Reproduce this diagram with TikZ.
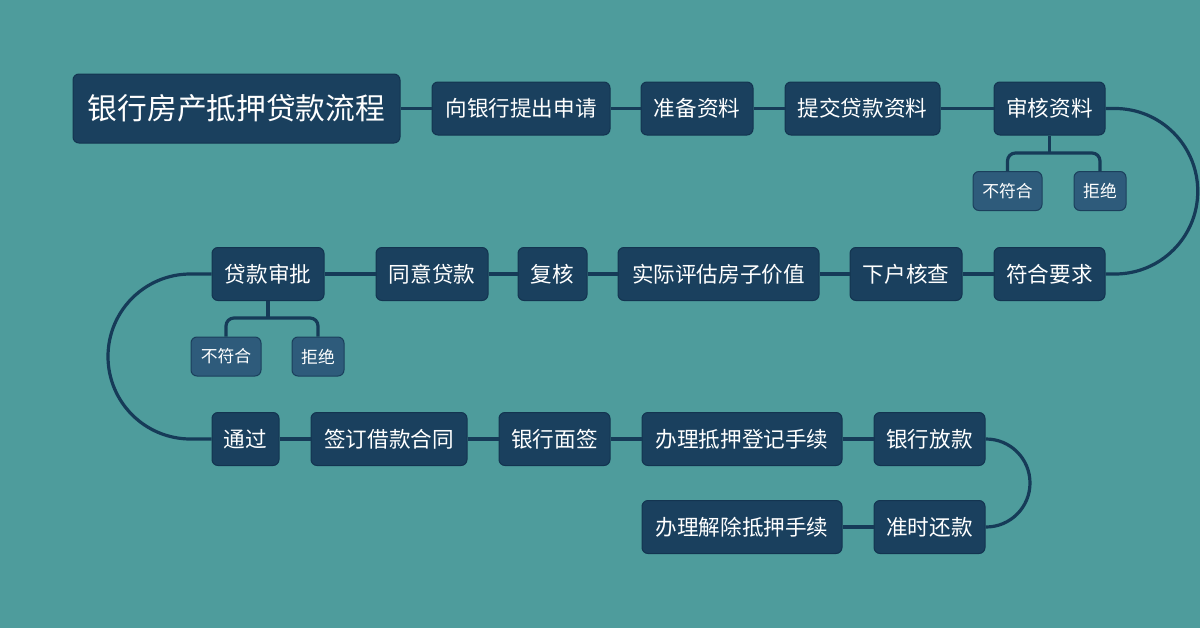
\documentclass[tikz,border=0pt]{standalone}
\usepackage{fontspec}
\setmainfont{Noto Sans CJK SC}
\definecolor{bg}{HTML}{4E9C9C}
\definecolor{nodefill}{HTML}{1A405E}
\definecolor{nodeline}{HTML}{133450}
\definecolor{subfill}{HTML}{2E5B7B}
\definecolor{subline}{HTML}{1B3F5C}
\definecolor{conn}{HTML}{163B58}
\begin{document}
\begin{tikzpicture}[x=0.75pt,y=-0.75pt,
  mbox/.style={draw=nodeline,line width=0.75pt,fill=nodefill,rounded corners=4.5pt,text=white,
    inner sep=0pt,minimum height=53*0.75pt,font=\fontsize{16.2pt}{19pt}\selectfont},
  tbox/.style={mbox,minimum height=69*0.75pt,font=\fontsize{22.3pt}{26pt}\selectfont},
  sbox/.style={draw=subline,line width=0.75pt,fill=subfill,rounded corners=4.5pt,text=white,
    inner sep=0pt,minimum height=39*0.75pt,font=\fontsize{12.6pt}{15pt}\selectfont},
  link/.style={draw=conn,line width=2.4pt},
  blink/.style={draw=conn,line width=2.4pt,rounded corners=6pt}]
\fill[bg] (0,0) rectangle (1200,628);
\useasboundingbox (0,0) rectangle (1200,628);
% row 1
\node[tbox,minimum width=327*0.75pt] (t) at (236.5,108.5) {银行房产抵押贷款流程};
\node[mbox,minimum width=178*0.75pt] (a1) at (521,108.5) {向银行提出申请};
\node[mbox,minimum width=112*0.75pt] (a2) at (697,108.5) {准备资料};
\node[mbox,minimum width=155*0.75pt] (a3) at (862.5,108.5) {提交贷款资料};
\node[mbox,minimum width=111*0.75pt] (a4) at (1049.5,108.5) {审核资料};
\node[sbox,minimum width=69*0.75pt] (s1) at (1007.5,191) {不符合};
\node[sbox,minimum width=52*0.75pt] (s2) at (1100,191) {拒绝};
% row 2
\node[mbox,minimum width=111*0.75pt] (b6) at (1049.5,274) {符合要求};
\node[mbox,minimum width=112*0.75pt] (b5) at (906,274) {下户核查};
\node[mbox,minimum width=201*0.75pt] (b4) at (718.5,274) {实际评估房子价值};
\node[mbox,minimum width=69*0.75pt] (b3) at (552.5,274) {复核};
\node[mbox,minimum width=112*0.75pt] (b2) at (432,274) {同意贷款};
\node[mbox,minimum width=112*0.75pt] (b1) at (268,274) {贷款审批};
\node[sbox,minimum width=70*0.75pt] (s3) at (226,356.5) {不符合};
\node[sbox,minimum width=52*0.75pt] (s4) at (318,356.5) {拒绝};
% row 3
\node[mbox,minimum width=67*0.75pt] (c1) at (245.5,439) {通过};
\node[mbox,minimum width=156*0.75pt] (c2) at (389,439) {签订借款合同};
\node[mbox,minimum width=111*0.75pt] (c3) at (554.5,439) {银行面签};
\node[mbox,minimum width=200*0.75pt] (c4) at (742,439) {办理抵押登记手续};
\node[mbox,minimum width=111*0.75pt] (c5) at (929.5,439) {银行放款};
% row 4
\node[mbox,minimum width=111*0.75pt] (d1) at (929.5,527) {准时还款};
\node[mbox,minimum width=200*0.75pt] (d2) at (742,527) {办理解除抵押手续};
% junction coordinates
\coordinate (j1) at (1049.5,153);
\coordinate (j2) at (268,318);
\coordinate (r1) at (1115,108.5);
\coordinate (l1) at (190.5,274);
\coordinate (r2) at (986,439);
% connectors row 1
\draw[link] (t.east) -- (a1.west);
\draw[link] (a1.east) -- (a2.west);
\draw[link] (a2.east) -- (a3.west);
\draw[link] (a3.east) -- (a4.west);
\draw[link] (a4.south) -- (j1);
\draw[blink] (s1.north) |- (j1) -| (s2.north);
% big right arc
\draw[link] (a4.east) -- (r1) arc[start angle=90,end angle=-90,radius=82.75*0.75pt] -- (b6.east);
% row 2
\draw[link] (b6.west) -- (b5.east);
\draw[link] (b5.west) -- (b4.east);
\draw[link] (b4.west) -- (b3.east);
\draw[link] (b3.west) -- (b2.east);
\draw[link] (b2.west) -- (b1.east);
\draw[link] (b1.south) -- (j2);
\draw[blink] (s3.north) |- (j2) -| (s4.north);
% left arc
\draw[link] (b1.west) -- (l1) arc[start angle=90,end angle=270,radius=82.5*0.75pt] -- (c1.west);
% row 3
\draw[link] (c1.east) -- (c2.west);
\draw[link] (c2.east) -- (c3.west);
\draw[link] (c3.east) -- (c4.west);
\draw[link] (c4.east) -- (c5.west);
% small right arc
\draw[link] (c5.east) -- (r2) arc[start angle=90,end angle=-90,radius=44*0.75pt] -- (d1.east);
% row 4
\draw[link] (d1.west) -- (d2.east);
\end{tikzpicture}
\end{document}
